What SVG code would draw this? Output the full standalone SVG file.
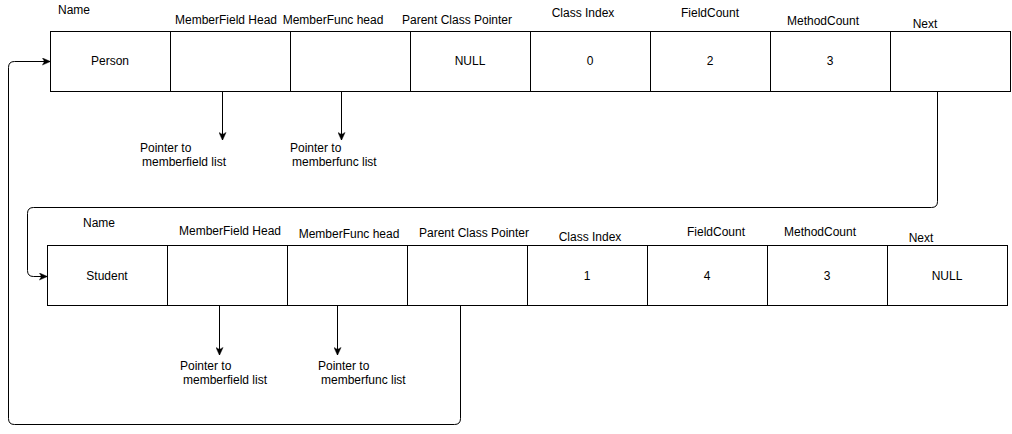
<svg xmlns="http://www.w3.org/2000/svg" width="1012" height="434" viewBox="0 0 1012 434">
<defs>
<style>
text{font-family:"Liberation Sans",Arial,sans-serif;font-size:12px;fill:#000}
.c{text-anchor:middle}
.cell{fill:#fff;stroke:#000;stroke-width:1}
.edge{fill:none;stroke:#000;stroke-width:1}
</style>
<marker id="arr" viewBox="0 0 10 10" refX="9.5" refY="5" markerWidth="8" markerHeight="8" markerUnits="userSpaceOnUse" orient="auto">
<path d="M0,0.5 L10,5 L0,9.5 L2.5,5 Z" fill="#000" stroke="#000" stroke-width="0.5"/>
</marker>
</defs>
<rect width="1012" height="434" fill="#fff"/>

<g id="person">
<rect class="cell" x="50.5" y="31.5" width="120" height="60"/>
<rect class="cell" x="170.5" y="31.5" width="120" height="60"/>
<rect class="cell" x="290.5" y="31.5" width="120" height="60"/>
<rect class="cell" x="410.5" y="31.5" width="120" height="60"/>
<rect class="cell" x="530.5" y="31.5" width="120" height="60"/>
<rect class="cell" x="650.5" y="31.5" width="120" height="60"/>
<rect class="cell" x="770.5" y="31.5" width="120" height="60"/>
<rect class="cell" x="890.5" y="31.5" width="120" height="60"/>
<text class="c" x="110" y="65">Person</text>
<text class="c" x="470" y="65">NULL</text>
<text class="c" x="590" y="65">0</text>
<text class="c" x="710" y="65">2</text>
<text class="c" x="830" y="65">3</text>
</g>
<g id="person-labels">
<text class="c" x="74" y="14">Name</text>
<text class="c" x="226" y="24">MemberField Head</text>
<text class="c" x="333" y="24">MemberFunc head</text>
<text class="c" x="457" y="24">Parent Class Pointer</text>
<text class="c" x="583" y="17">Class Index</text>
<text class="c" x="710" y="17">FieldCount</text>
<text class="c" x="823" y="25">MethodCount</text>
<text class="c" x="925" y="28">Next</text>
<text x="140" y="152">Pointer to</text>
<text x="142" y="166">memberfield list</text>
<text x="290" y="152">Pointer to</text>
<text x="292" y="166">memberfunc list</text>
</g>

<g id="student">
<rect class="cell" x="47.5" y="245.5" width="120" height="60"/>
<rect class="cell" x="167.5" y="245.5" width="120" height="60"/>
<rect class="cell" x="287.5" y="245.5" width="120" height="60"/>
<rect class="cell" x="407.5" y="245.5" width="120" height="60"/>
<rect class="cell" x="527.5" y="245.5" width="120" height="60"/>
<rect class="cell" x="647.5" y="245.5" width="120" height="60"/>
<rect class="cell" x="767.5" y="245.5" width="120" height="60"/>
<rect class="cell" x="887.5" y="245.5" width="120" height="60"/>
<text class="c" x="107" y="280">Student</text>
<text class="c" x="587" y="280">1</text>
<text class="c" x="707" y="280">4</text>
<text class="c" x="827" y="280">3</text>
<text class="c" x="947" y="280">NULL</text>
</g>
<g id="student-labels">
<text class="c" x="99" y="227">Name</text>
<text class="c" x="230" y="235">MemberField Head</text>
<text class="c" x="349" y="238">MemberFunc head</text>
<text class="c" x="474" y="237">Parent Class Pointer</text>
<text class="c" x="590" y="241">Class Index</text>
<text class="c" x="716" y="236">FieldCount</text>
<text class="c" x="820" y="236">MethodCount</text>
<text class="c" x="921" y="242">Next</text>
<text x="180" y="370">Pointer to</text>
<text x="183" y="384">memberfield list</text>
<text x="318" y="370">Pointer to</text>
<text x="321" y="384">memberfunc list</text>
</g>

<g id="connectors">
<path class="edge" d="M222.5,92 V140" marker-end="url(#arr)"/>
<path class="edge" d="M341.5,92 V140" marker-end="url(#arr)"/>
<path class="edge" d="M219.5,306 V355" marker-end="url(#arr)"/>
<path class="edge" d="M337.5,306 V355" marker-end="url(#arr)"/>
<path class="edge" d="M937.5,92 V201.5 Q937.5,207.5 931.5,207.5 H33.5 Q27.5,207.5 27.5,213.5 V270.5 Q27.5,276.5 33.5,276.5 H47" marker-end="url(#arr)"/>
<path class="edge" d="M460.5,306 V418.5 Q460.5,424.5 454.5,424.5 H14.5 Q8.5,424.5 8.5,418.5 V67.5 Q8.5,61.5 14.5,61.5 H50" marker-end="url(#arr)"/>
</g>
</svg>
